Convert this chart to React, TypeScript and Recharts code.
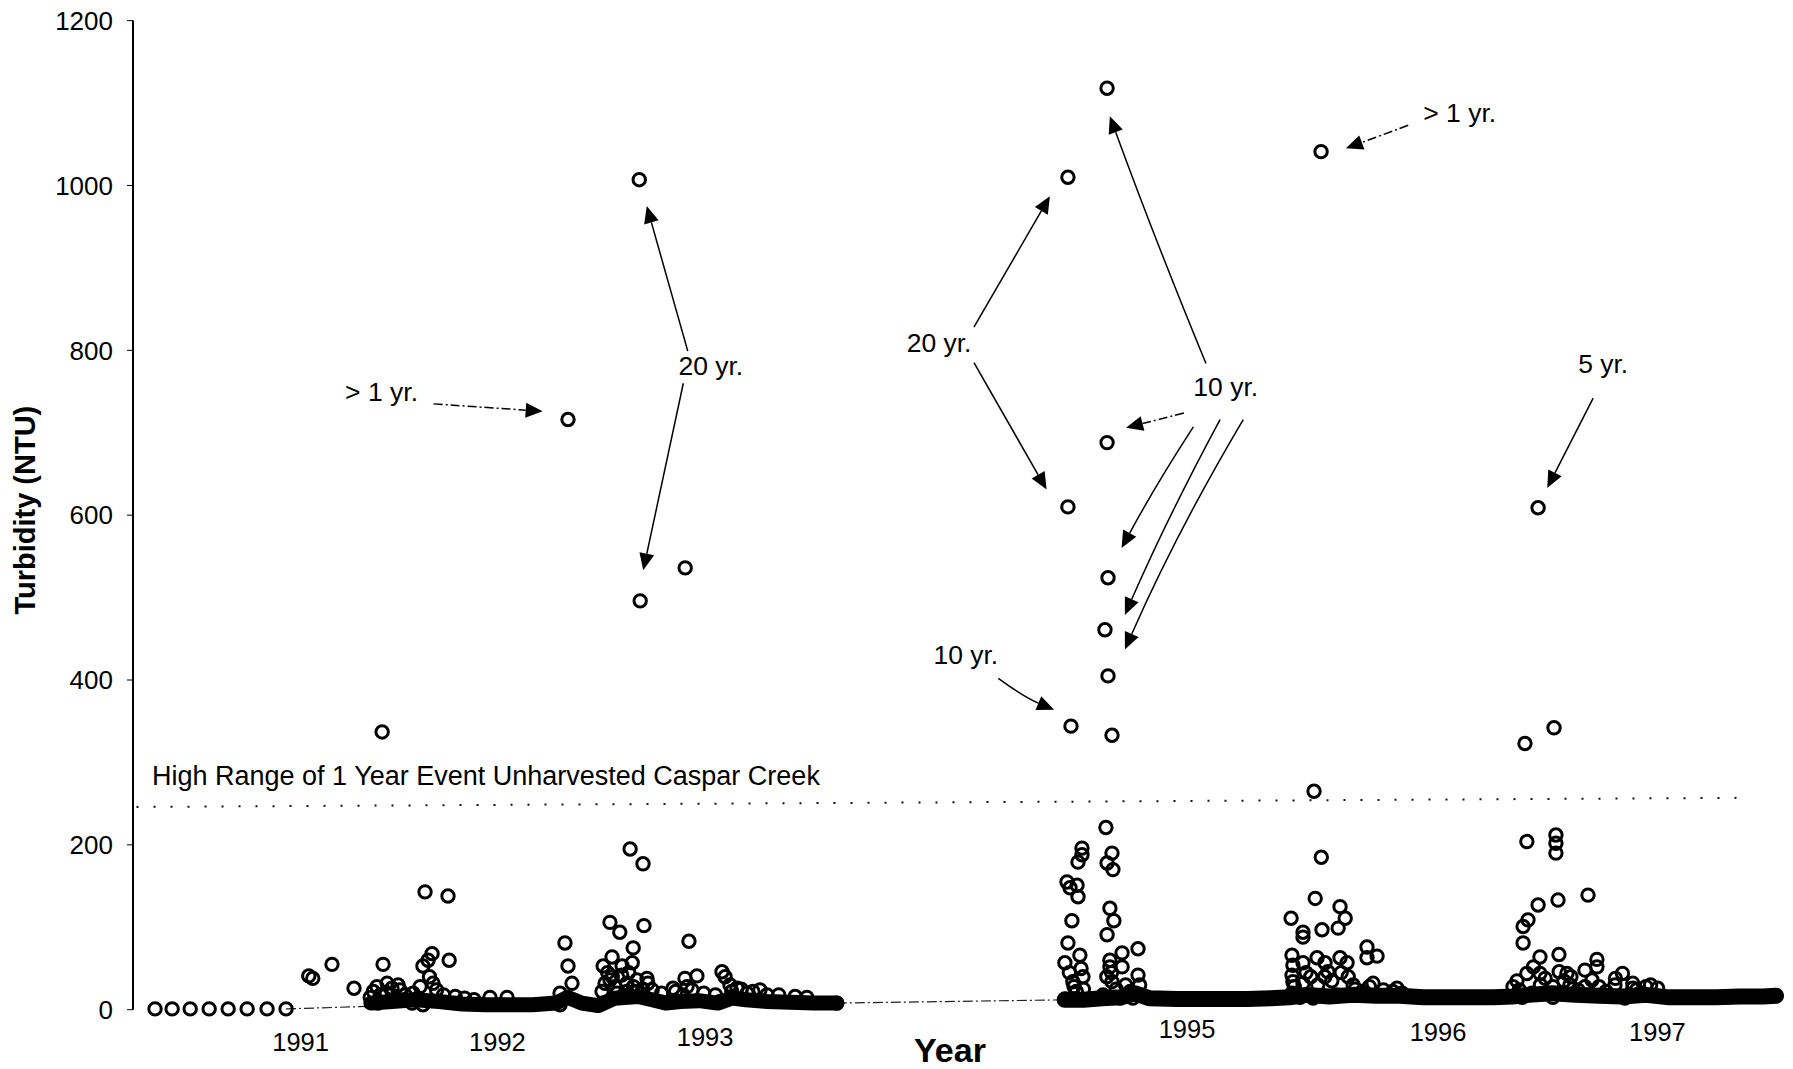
import React from 'react';
import {
  ComposedChart,
  Scatter,
  Line,
  XAxis,
  YAxis,
  ReferenceLine,
  ReferenceDot,
} from 'recharts';

const FONT = '"Liberation Sans", Arial, Helvetica, sans-serif';

// ---------- data (t = time position in years, v = turbidity NTU) ----------
const zeroReadings: [number, number][] = [
  [1990.539, 1], [1990.612, 1], [1990.689, 1], [1990.770, 1],
  [1990.851, 1], [1990.932, 1], [1991.017, 1], [1991.098, 1],
];

const season1991: [number, number][] = [
  [1991.195, 41], [1991.212, 38], [1991.294, 55], [1991.388, 26], [1991.457, 15],
  [1991.47, 22], [1991.486, 28], [1991.490, 8], [1991.50, 18], [1991.508, 337],
  [1991.512, 55], [1991.525, 21], [1991.529, 32], [1991.55, 26], [1991.576, 30],
  [1991.584, 24], [1991.60, 12], [1991.606, 18], [1991.636, 8], [1991.640, 20],
  [1991.66, 14], [1991.670, 28], [1991.682, 53], [1991.682, 6], [1991.691, 143],
  [1991.704, 60], [1991.71, 40], [1991.721, 68], [1991.725, 32], [1991.74, 24],
  [1991.77, 18], [1991.789, 138], [1991.794, 60], [1991.82, 16], [1991.86, 14],
  [1991.90, 12], [1991.968, 15], [1992.041, 15],
];

const season1992: [number, number][] = [
  [1992.267, 20], [1992.267, 6], [1992.288, 81], [1992.301, 53], [1992.301, 716],
  [1992.318, 32], [1992.446, 22], [1992.446, 8], [1992.451, 53], [1992.459, 32],
  [1992.47, 45], [1992.480, 36], [1992.480, 106], [1992.489, 64], [1992.49, 40],
  [1992.501, 28], [1992.510, 20], [1992.522, 94], [1992.53, 42], [1992.532, 53],
  [1992.552, 32], [1992.552, 22], [1992.56, 45], [1992.566, 195], [1992.575, 57],
  [1992.579, 75], [1992.58, 28], [1992.595, 36], [1992.595, 22], [1992.605, 1007],
  [1992.609, 496], [1992.621, 177], [1992.62, 25], [1992.625, 102], [1992.638, 38],
  [1992.642, 32], [1992.66, 24], [1992.70, 20], [1992.745, 10], [1992.749, 26],
  [1992.76, 22], [1992.792, 18], [1992.800, 38], [1992.801, 536], [1992.809, 28],
  [1992.817, 83], [1992.83, 24], [1992.851, 41], [1992.88, 20], [1992.93, 18],
  [1992.950, 10], [1992.958, 46], [1992.971, 40], [1992.992, 30], [1993.00, 22],
  [1993.022, 26], [1993.04, 25], [1993.065, 20], [1993.09, 22], [1993.12, 24],
  [1993.150, 18], [1993.20, 18], [1993.27, 16], [1993.32, 15], [1993.448, 8],
];

const season1995: [number, number][] = [
  [1994.421, 57], [1994.421, 13], [1994.430, 155], [1994.434, 81], [1994.434, 1010],
  [1994.434, 610], [1994.44, 45], [1994.443, 148], [1994.447, 344], [1994.451, 108],
  [1994.455, 34], [1994.46, 28], [1994.47, 22], [1994.473, 151], [1994.477, 179],
  [1994.477, 137], [1994.485, 66], [1994.49, 50], [1994.494, 196], [1994.494, 188],
  [1994.498, 40], [1994.50, 25], [1994.584, 18], [1994.592, 461], [1994.596, 221],
  [1994.60, 40], [1994.601, 1118], [1994.601, 688], [1994.601, 178], [1994.601, 91],
  [1994.605, 524], [1994.605, 405], [1994.613, 123], [1994.613, 60], [1994.613, 52],
  [1994.62, 45], [1994.622, 190], [1994.622, 333], [1994.622, 34], [1994.626, 170],
  [1994.630, 108], [1994.64, 25], [1994.656, 14], [1994.665, 69], [1994.665, 52],
  [1994.68, 30], [1994.70, 22], [1994.711, 14], [1994.733, 74], [1994.733, 42],
  [1994.74, 30],
];

const season1996: [number, number][] = [
  [1995.386, 111], [1995.390, 66], [1995.390, 42], [1995.390, 20], [1995.394, 54],
  [1995.394, 34], [1995.40, 28], [1995.424, 15], [1995.437, 94], [1995.437, 88],
  [1995.437, 57], [1995.437, 32], [1995.45, 45], [1995.47, 40], [1995.480, 14],
  [1995.484, 265], [1995.489, 135], [1995.497, 63], [1995.50, 30], [1995.514, 1041],
  [1995.515, 185], [1995.518, 97], [1995.531, 57], [1995.53, 40], [1995.543, 46],
  [1995.56, 35], [1995.582, 18], [1995.587, 99], [1995.595, 125], [1995.595, 63],
  [1995.60, 45], [1995.617, 111], [1995.625, 57], [1995.63, 40], [1995.651, 30],
  [1995.66, 25], [1995.69, 22], [1995.710, 76], [1995.710, 63], [1995.72, 28],
  [1995.736, 32], [1995.753, 65], [1995.78, 24], [1995.82, 22], [1995.838, 26],
  [1995.86, 20],
];

const season1997: [number, number][] = [
  [1996.333, 28], [1996.35, 35], [1996.36, 24], [1996.372, 15], [1996.376, 101],
  [1996.376, 81], [1996.384, 323], [1996.392, 204], [1996.392, 44], [1996.397, 109],
  [1996.414, 20], [1996.42, 52], [1996.440, 127], [1996.440, 609], [1996.45, 30],
  [1996.448, 64], [1996.448, 44], [1996.47, 38], [1996.503, 28], [1996.503, 15],
  [1996.508, 342], [1996.516, 212], [1996.516, 202], [1996.516, 190], [1996.525, 133],
  [1996.529, 67], [1996.53, 46], [1996.55, 35], [1996.563, 44], [1996.576, 30],
  [1996.58, 40], [1996.61, 24], [1996.640, 48], [1996.640, 28], [1996.653, 139],
  [1996.67, 36], [1996.691, 61], [1996.691, 52], [1996.70, 28], [1996.73, 22],
  [1996.768, 30], [1996.77, 38], [1996.80, 44], [1996.810, 14], [1996.844, 32],
  [1996.844, 26], [1996.86, 24], [1996.90, 28], [1996.92, 30], [1996.95, 26],
  [1997.455, 17],
];

// dense continuous readings (drawn as a solid band of overlapping circles)
const baseflowA: [number, number][] = [
  [1991.46, 8], [1991.55, 10], [1991.65, 12], [1991.75, 10], [1991.85, 7], [1991.95, 6],
  [1992.05, 6], [1992.15, 6], [1992.25, 8], [1992.30, 15], [1992.36, 8], [1992.43, 5],
  [1992.50, 14], [1992.60, 16], [1992.66, 12], [1992.72, 8], [1992.78, 10], [1992.86, 11],
  [1992.94, 8], [1993.00, 14], [1993.06, 12], [1993.15, 10], [1993.25, 9], [1993.35, 8],
  [1993.448, 8],
];

const baseflowB: [number, number][] = [
  [1994.42, 12], [1994.50, 12], [1994.58, 14], [1994.66, 15], [1994.72, 20], [1994.78, 14],
  [1994.90, 13], [1995.00, 13], [1995.10, 13], [1995.20, 13], [1995.30, 14], [1995.38, 15],
  [1995.45, 18], [1995.55, 16], [1995.65, 18], [1995.75, 17], [1995.85, 17], [1995.95, 15],
  [1996.05, 15], [1996.15, 15], [1996.25, 15], [1996.33, 16], [1996.40, 18], [1996.50, 20],
  [1996.60, 18], [1996.70, 17], [1996.80, 16], [1996.90, 18], [1997.00, 15], [1997.10, 15],
  [1997.20, 15], [1997.30, 16], [1997.40, 16], [1997.455, 17],
];

// thin connector traces where the record has gaps
const gapTraceA: [number, number][] = [[1991.098, 1], [1991.45, 4]];
const gapTraceB: [number, number][] = [[1993.448, 8], [1994.42, 12]];

// y ticks and year labels
const yTicks = [0, 200, 400, 600, 800, 1000, 1200];
const yearTickPos = [1991.16, 1992.0, 1992.886, 1994.942, 1996.013, 1996.949];
const yearTickLabels = ['1991', '1992', '1993', '1995', '1996', '1997'];

// 1-year event threshold (dotted line)
const thresholdFrom: [number, number] = [1990.46, 246];
const thresholdTo: [number, number] = [1997.29, 257];
const thresholdText = 'High Range of 1 Year Event Unharvested Caspar Creek';
const thresholdTextAt: [number, number] = [1990.526, 273];

// recurrence-interval annotations
const noteTexts: { text: string; at: [number, number] }[] = [
  { text: '> 1 yr.', at: [1991.350, 738] },
  { text: '20 yr.', at: [1992.772, 770] },
  { text: '20 yr.', at: [1993.746, 798] },
  { text: '10 yr.', at: [1994.969, 744] },
  { text: '10 yr.', at: [1993.860, 420] },
  { text: '> 1 yr.', at: [1995.950, 1077] },
  { text: '5 yr.', at: [1996.611, 772] },
];

const noteArrows: { from: [number, number]; to: [number, number]; dashed: boolean; bend: number }[] = [
  { from: [1991.727, 735], to: [1992.193, 726], dashed: true, bend: 0 },
  { from: [1992.812, 799], to: [1992.637, 975], dashed: false, bend: 0 },
  { from: [1992.793, 760], to: [1992.622, 533], dashed: false, bend: 0 },
  { from: [1994.033, 828], to: [1994.357, 987], dashed: false, bend: 0 },
  { from: [1994.033, 785], to: [1994.343, 631], dashed: false, bend: 0 },
  { from: [1995.023, 784], to: [1994.613, 1084], dashed: false, bend: -0.01 },
  { from: [1994.929, 724], to: [1994.682, 706], dashed: true, bend: 0 },
  { from: [1994.969, 707], to: [1994.663, 560], dashed: false, bend: 0.02 },
  { from: [1995.083, 716], to: [1994.677, 479], dashed: false, bend: 0.02 },
  { from: [1995.182, 716], to: [1994.677, 437], dashed: false, bend: 0.03 },
  { from: [1994.137, 402], to: [1994.375, 364], dashed: false, bend: 0.06 },
  { from: [1995.886, 1073], to: [1995.620, 1045], dashed: true, bend: 0 },
  { from: [1996.675, 742], to: [1996.479, 633], dashed: false, bend: 0 },
];

// ---------- tables built from the arrays ----------
const toRows = (arr: [number, number][]) => arr.map(([t, v]) => ({ t, v }));
const readings = toRows([
  ...zeroReadings, ...season1991, ...season1992, ...season1995, ...season1996, ...season1997,
]);

const yearLabelLift: Record<string, number> = {
  '1991': 13, '1992': 13, '1993': 8, '1995': 0, '1996': 3, '1997': 3,
};

const OpenCircle = (p: any) => (
  <circle cx={p.cx} cy={p.cy} r={6.2} fill="none" stroke="#000" strokeWidth={3} />
);

const YearTick = (p: any) => {
  const idx = yearTickPos.indexOf(p.payload.value);
  const label = yearTickLabels[idx] ?? '';
  return (
    <text x={p.x} y={p.y + (yearLabelLift[label] ?? 0)} dy="0.71em" textAnchor="middle"
      fontSize={25.5} fontFamily={FONT} fill="#000">
      {label}
    </text>
  );
};

const arrowShape = (dashed: boolean, bend: number) => (p: any) => {
  const { x1, y1, x2, y2 } = p;
  const dx = x2 - x1;
  const dy = y2 - y1;
  const len = Math.hypot(dx, dy) || 1;
  // control point for a gentle curve, perpendicular to the chord
  const cx = (x1 + x2) / 2 + (-dy / len) * bend * len;
  const cy = (y1 + y2) / 2 + (dx / len) * bend * len;
  // direction at the tip: from control point to tip
  const tdx = x2 - cx;
  const tdy = y2 - cy;
  const tl = Math.hypot(tdx, tdy) || 1;
  const ux = tdx / tl;
  const uy = tdy / tl;
  const headL = 17;
  const headW = 7.5;
  const bx = x2 - ux * headL;
  const by = y2 - uy * headL;
  const px = -uy;
  const py = ux;
  return (
    <g>
      <path d={`M${x1},${y1} Q${cx},${cy} ${bx},${by}`} fill="none" stroke="#000" strokeWidth={1.5}
        strokeDasharray={dashed ? '9 3 2 3' : undefined} />
      <polygon
        points={`${x2},${y2} ${bx + px * headW},${by + py * headW} ${bx - px * headW},${by - py * headW}`}
        fill="#000" />
    </g>
  );
};

const textShape = (text: string, size: number) => (p: any) => (
  <text x={p.cx} y={p.cy} fontSize={size} fontFamily={FONT} fill="#000">{text}</text>
);

export default function App() {
  return (
    <div style={{ position: 'absolute', left: 0, top: 0, width: 1793, height: 1069, background: '#fff' }}>
      <ComposedChart width={1793} height={1069}
        margin={{ top: 20.6, right: 6, bottom: 19.3, left: 0 }}
        style={{ fontFamily: FONT }}>
        <XAxis type="number" dataKey="t" domain={[1990.445, 1997.502]} ticks={yearTickPos}
          axisLine={false} tickLine={false} tickSize={0} tickMargin={10} height={40}
          tick={<YearTick />} interval={0}
          label={{
            content: (lp: any) => {
              const vb = lp.viewBox || { x: 133, y: 1009.7, width: 1654 };
              return (
                <text x={vb.x + vb.width / 2 - 10} y={vb.y + 52} textAnchor="middle"
                  fontSize={34} fontWeight="bold" fontFamily={FONT} fill="#000">Year</text>
              );
            },
          }} />
        <YAxis type="number" dataKey="v" domain={[0, 1200]} ticks={yTicks} width={133}
          axisLine={{ stroke: '#000', strokeWidth: 2 }} tickLine={{ stroke: '#000', strokeWidth: 1 }}
          tickSize={6} tickMargin={14} interval={0}
          tick={{ fill: '#000', fontSize: 26, fontFamily: FONT }}
          label={{
            content: (lp: any) => {
              const vb = lp.viewBox || { x: 0, y: 20.6, height: 989 };
              const cx = vb.x + 25;
              const cy = vb.y + vb.height / 2 - 5;
              return (
                <text x={cx} y={cy} transform={`rotate(-90 ${cx} ${cy})`} textAnchor="middle"
                  dominantBaseline="central" fontSize={29} fontWeight="bold" fontFamily={FONT} fill="#000">
                  Turbidity (NTU)
                </text>
              );
            },
          }} />

        <ReferenceLine
          segment={[{ x: thresholdFrom[0], y: thresholdFrom[1] }, { x: thresholdTo[0], y: thresholdTo[1] }]}
          stroke="#111" strokeWidth={2} strokeDasharray="2 15" />
        <ReferenceDot x={thresholdTextAt[0]} y={thresholdTextAt[1]} r={0}
          shape={textShape(thresholdText, 27)} />

        {noteArrows.map((a, i) => (
          <ReferenceLine key={`ar${i}`}
            segment={[{ x: a.from[0], y: a.from[1] }, { x: a.to[0], y: a.to[1] }]}
            shape={arrowShape(a.dashed, a.bend)} />
        ))}
        {noteTexts.map((n, i) => (
          <ReferenceDot key={`nt${i}`} x={n.at[0]} y={n.at[1]} r={0} shape={textShape(n.text, 26.5)} />
        ))}

        <Line data={toRows(gapTraceA)} dataKey="v" type="linear" stroke="#222" strokeWidth={1.2}
          strokeDasharray="10 3 2 3" dot={false} activeDot={false} isAnimationActive={false} />
        <Line data={toRows(gapTraceB)} dataKey="v" type="linear" stroke="#222" strokeWidth={1.2}
          strokeDasharray="10 3 2 3" dot={false} activeDot={false} isAnimationActive={false} />
        <Line data={toRows(baseflowA)} dataKey="v" type="linear" stroke="#000" strokeWidth={15}
          strokeLinecap="round" strokeLinejoin="round" dot={false} activeDot={false} isAnimationActive={false} />
        <Line data={toRows(baseflowB)} dataKey="v" type="linear" stroke="#000" strokeWidth={16}
          strokeLinecap="round" strokeLinejoin="round" dot={false} activeDot={false} isAnimationActive={false} />
        <Scatter data={readings} dataKey="v" shape={OpenCircle} isAnimationActive={false} />
      </ComposedChart>
    </div>
  );
}
